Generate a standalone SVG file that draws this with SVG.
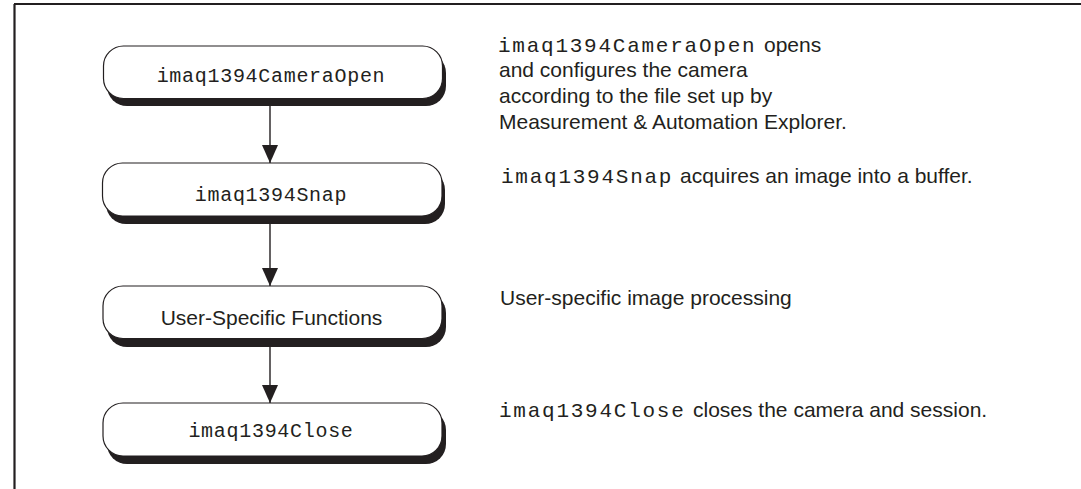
<svg xmlns="http://www.w3.org/2000/svg" width="1081" height="489" viewBox="0 0 1081 489">
<style>
.box{fill:#fff;stroke:#231f20;stroke-width:1.2}
.shadow{fill:#231f20}
.mono{font-family:"Liberation Mono","Courier New",monospace;fill:#231f20}
.nm{font-size:20px;letter-spacing:0.7px}
.rm{font-size:21px;letter-spacing:1.75px}
.sans{font-family:"Liberation Sans",Arial,sans-serif;font-size:21px;fill:#231f20}
.conn{stroke:#231f20;stroke-width:1.4;fill:none}
</style>
<defs>
<marker id="arr" markerUnits="userSpaceOnUse" markerWidth="18" markerHeight="16" refX="18" refY="8" orient="auto">
<path d="M0,0 L18,8 L0,16 z" fill="#231f20"/>
</marker>
</defs>
<rect width="1081" height="489" fill="#fff"/>
<g id="frame" stroke="#231f20" stroke-width="2.2">
<line x1="14" y1="4" x2="1081" y2="4"/>
<line x1="14.5" y1="4" x2="14.5" y2="489"/>
</g>
<g id="connectors">
<line class="conn" x1="270" y1="105" x2="270" y2="163" marker-end="url(#arr)"/>
<line class="conn" x1="270" y1="222" x2="270" y2="286" marker-end="url(#arr)"/>
<line class="conn" x1="270" y1="344" x2="270" y2="403" marker-end="url(#arr)"/>
</g>
<g id="node1">
<rect class="shadow" x="107" y="53" width="339" height="53" rx="20"/>
<rect class="box" x="103.5" y="46" width="339" height="52.5" rx="20"/>
<text class="mono nm" x="271" y="82" text-anchor="middle">imaq1394CameraOpen</text>
</g>
<g id="node2">
<rect class="shadow" x="106" y="170" width="339" height="54" rx="20"/>
<rect class="box" x="102.5" y="163" width="339.5" height="53" rx="20"/>
<text class="mono nm" x="271" y="201" text-anchor="middle">imaq1394Snap</text>
</g>
<g id="node3">
<rect class="shadow" x="107" y="293" width="339" height="54" rx="20"/>
<rect class="box" x="103" y="286" width="339" height="52.5" rx="20"/>
<text class="sans" x="271.5" y="325" text-anchor="middle">User-Specific Functions</text>
</g>
<g id="node4">
<rect class="shadow" x="107" y="410" width="339" height="54" rx="20"/>
<rect class="box" x="103" y="403" width="339" height="53" rx="20"/>
<text class="mono nm" x="271" y="437" text-anchor="middle">imaq1394Close</text>
</g>
<g id="descriptions">
<text class="mono rm" x="498" y="52">imaq1394CameraOpen</text>
<text class="sans" x="764" y="52">opens</text>
<text class="sans" x="499" y="77">and configures the camera</text>
<text class="sans" x="499" y="103">according to the file set up by</text>
<text class="sans" x="499" y="129">Measurement &amp; Automation Explorer.</text>
<text class="mono rm" x="501" y="183">imaq1394Snap</text>
<text class="sans" x="680" y="183">acquires an image into a buffer.</text>
<text class="sans" x="500" y="305">User-specific image processing</text>
<text class="mono rm" x="499" y="417">imaq1394Close</text>
<text class="sans" x="693" y="417">closes the camera and session.</text>
</g>
</svg>
